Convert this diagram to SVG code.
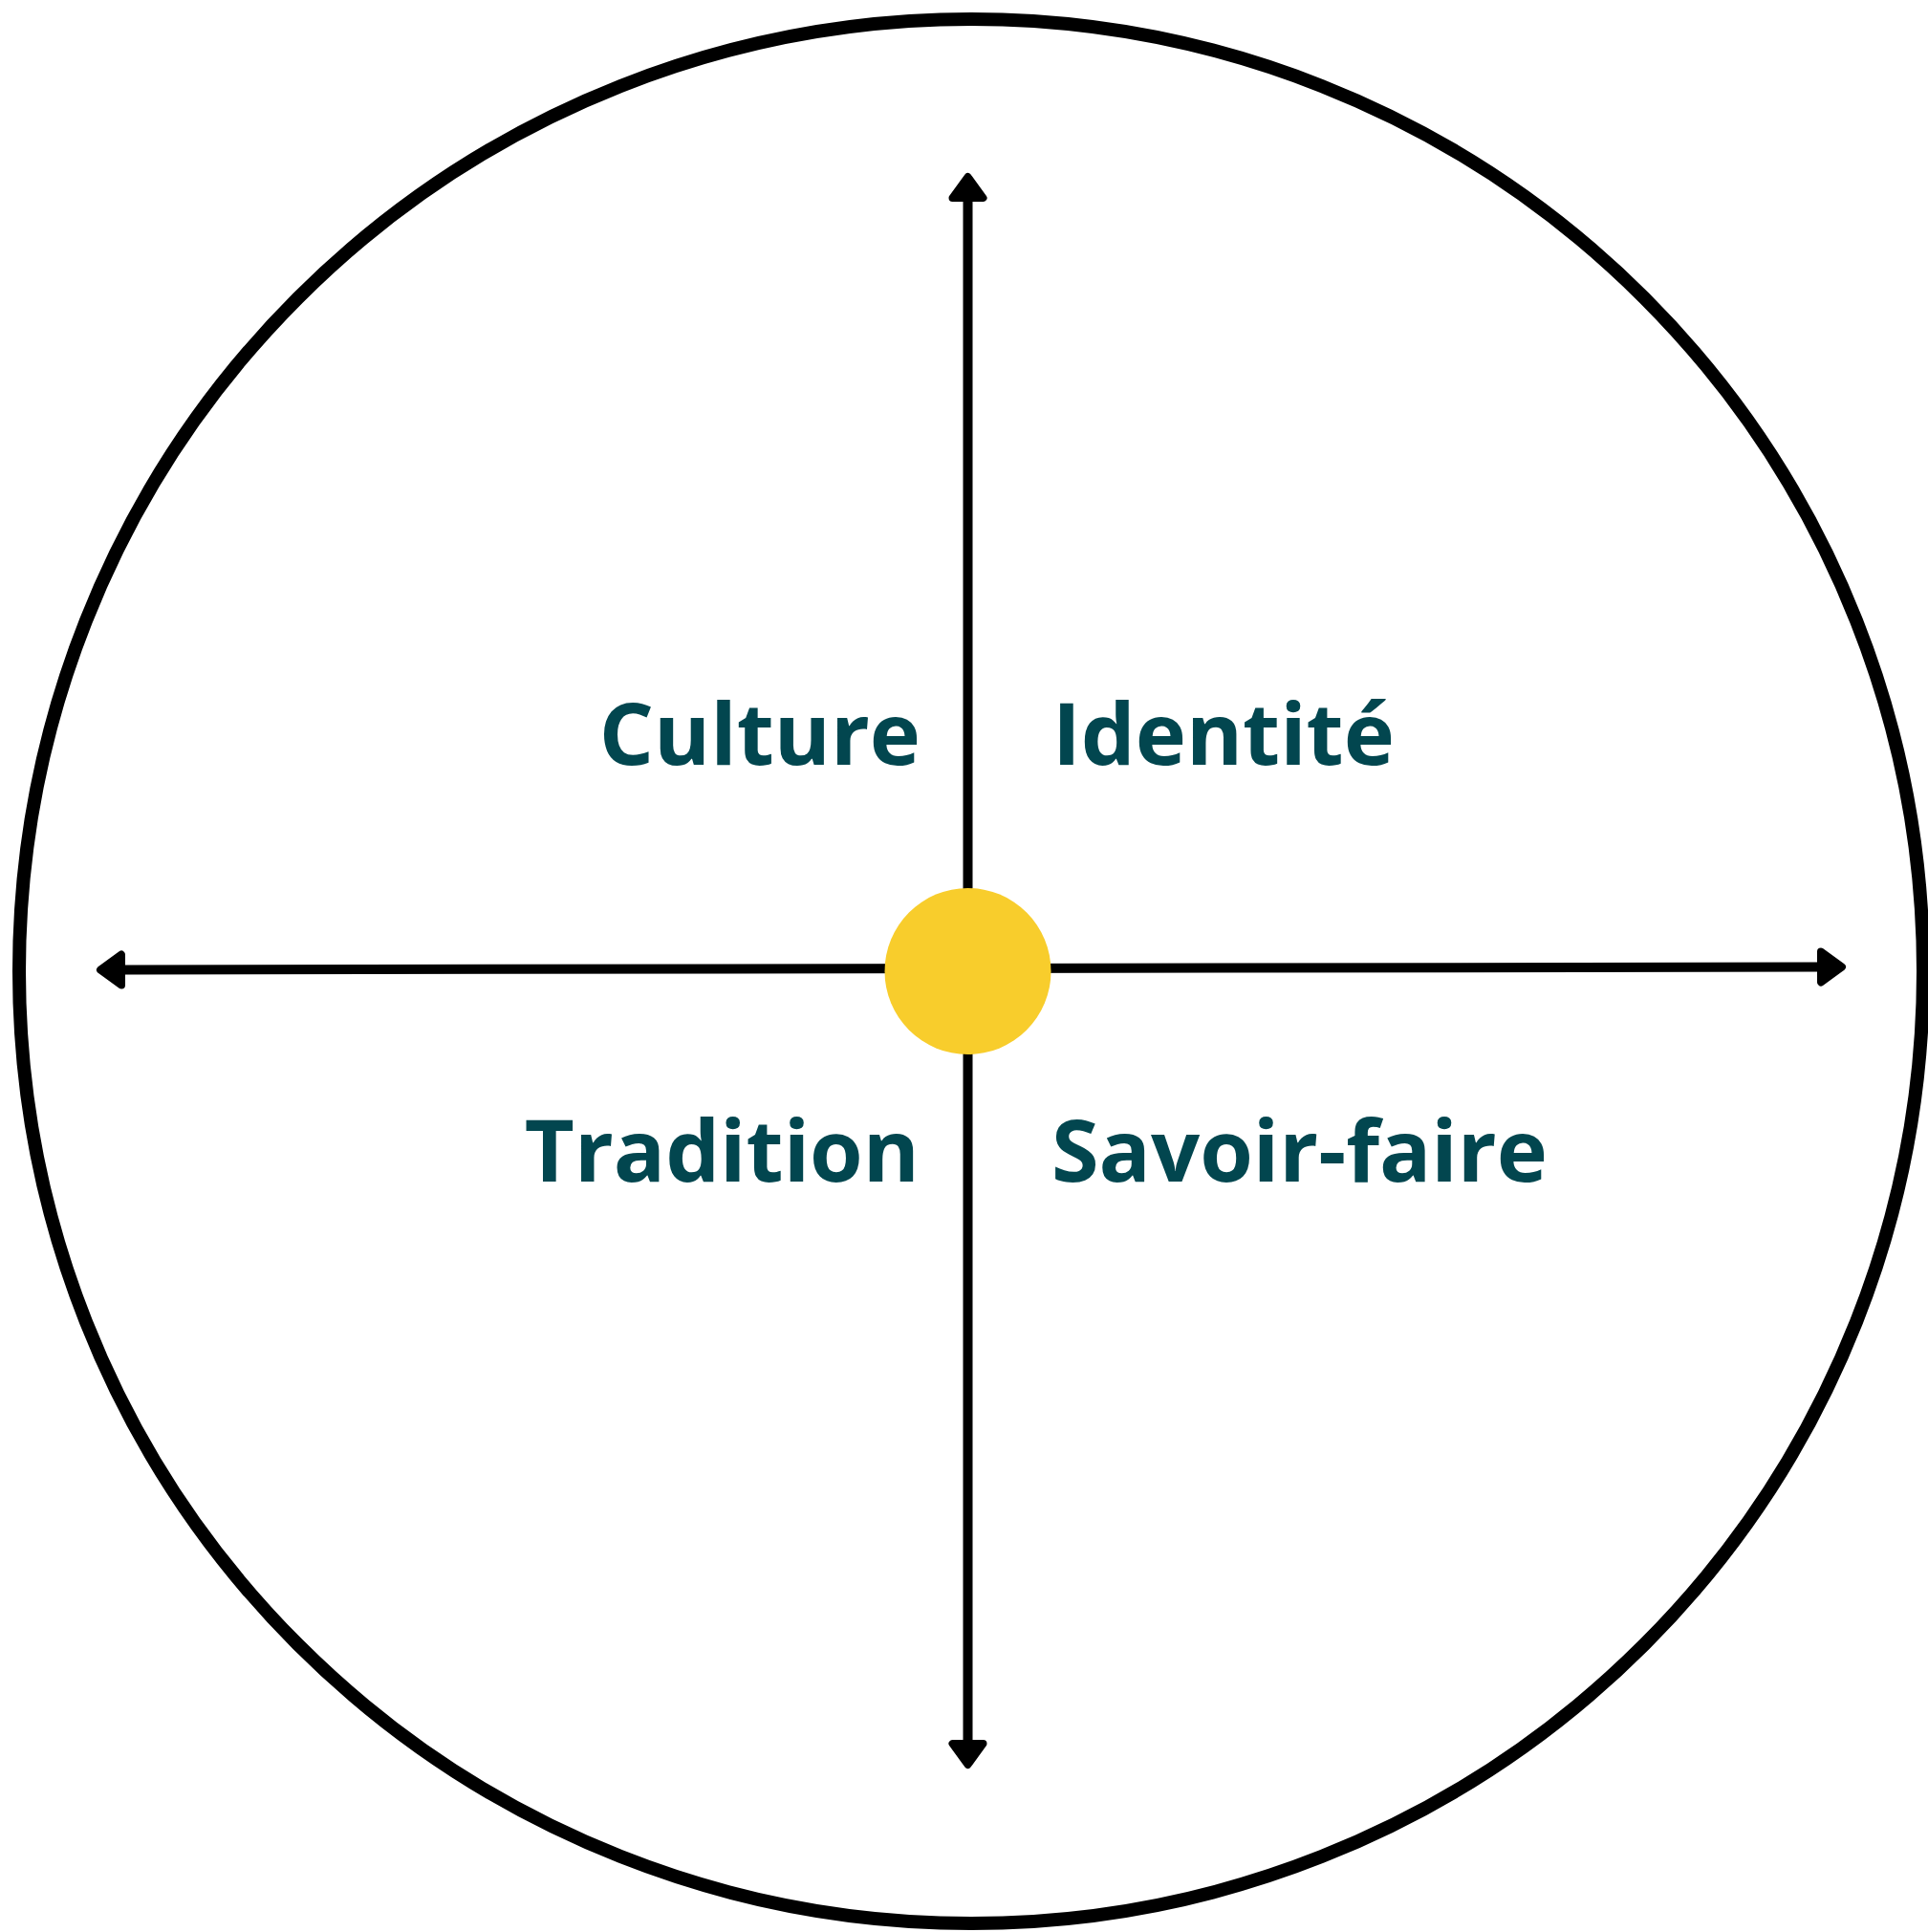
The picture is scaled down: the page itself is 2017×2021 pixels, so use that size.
<svg xmlns="http://www.w3.org/2000/svg" width="2017" height="2021" viewBox="0 0 2017 2021">
  <style>
    .lbl { font-family: "Open Sans", "Noto Sans", "Liberation Sans", sans-serif; font-weight: 700; font-size: 90px; fill: #02464F; }
    .axis { stroke: #000; stroke-width: 10; fill: none; }
  </style>
  <defs>
    <marker id="arrow" markerUnits="userSpaceOnUse" viewBox="-5 -25 40 50" markerWidth="40" markerHeight="50" refX="0" refY="0" orient="auto-start-reverse">
      <path d="M3,-16 L25,0 L3,16 Z" fill="#000" stroke="#000" stroke-width="8" stroke-linejoin="round"/>
    </marker>
  </defs>
  <rect width="2017" height="2021" fill="#fff"/>
  <g id="outer-circle">
    <circle cx="1016" cy="1016" r="996" fill="none" stroke="#000" stroke-width="14"/>
  </g>
  <g id="connectors">
    <line class="axis" x1="1012.5" y1="210" x2="1012.5" y2="1821" marker-start="url(#arrow)" marker-end="url(#arrow)"/>
    <line class="axis" x1="130" y1="1014.5" x2="1902" y2="1011.5" marker-start="url(#arrow)" marker-end="url(#arrow)"/>
  </g>
  <g id="center">
    <circle cx="1012.5" cy="1016" r="87" fill="#F8CD2C"/>
  </g>
  <g id="culture"><text class="lbl" x="963" y="800" text-anchor="end">Culture</text></g>
  <g id="identite"><text class="lbl" x="1101" y="800">Identité</text></g>
  <g id="tradition"><text class="lbl" x="962" y="1236" text-anchor="end">Tradition</text></g>
  <g id="savoir-faire"><text class="lbl" x="1100" y="1236">Savoir-faire</text></g>
</svg>
